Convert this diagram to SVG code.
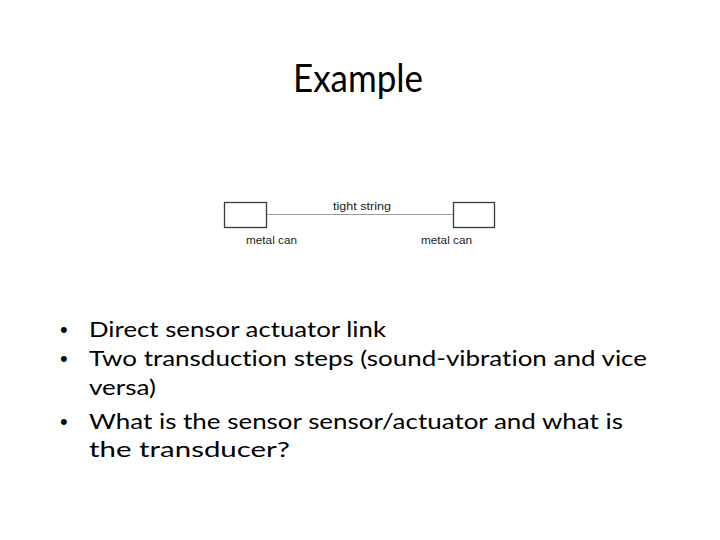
<svg xmlns="http://www.w3.org/2000/svg" width="720" height="540" viewBox="0 0 720 540">
<style>
.title{font-family:Lato,"Open Sans",sans-serif;font-size:39px;fill:#000}
.body{font-family:Lato,"Open Sans",sans-serif;font-size:22px;fill:#000;font-variant-ligatures:none}
.bul{font-family:"Liberation Sans",Arial,sans-serif;font-size:22px;fill:#000}
.lbl{font-family:"Liberation Sans",Arial,sans-serif;font-size:11px;fill:#222}
.can{fill:#fff;stroke:#3a3a3a;stroke-width:1.3}
.conn{stroke:#9a9a9a;stroke-width:1;fill:none}
</style>
<rect width="720" height="540" fill="#fff"/>
<text class="title" x="293" y="92" textLength="130" lengthAdjust="spacingAndGlyphs">Example</text>
<g id="connectors">
<line class="conn" x1="267" y1="214.5" x2="453" y2="214.5"/>
<text class="lbl" x="333" y="210" textLength="58" lengthAdjust="spacingAndGlyphs">tight string</text>
</g>
<g id="can-left">
<rect class="can" x="224.5" y="202.5" width="42" height="25"/>
<text class="lbl" x="246" y="244" textLength="51" lengthAdjust="spacingAndGlyphs">metal can</text>
</g>
<g id="can-right">
<rect class="can" x="453.5" y="202.5" width="41" height="25"/>
<text class="lbl" x="421" y="244" textLength="51" lengthAdjust="spacingAndGlyphs">metal can</text>
</g>
<g id="bullets">
<text class="bul" x="60" y="337">•</text>
<text class="body" x="89" y="337" textLength="297" lengthAdjust="spacingAndGlyphs">Direct sensor actuator link</text>
<text class="bul" x="60" y="366">•</text>
<text class="body" x="89" y="366" textLength="558" lengthAdjust="spacingAndGlyphs">Two transduction steps (sound-vibration and vice</text>
<text class="body" x="89" y="395" textLength="67" lengthAdjust="spacingAndGlyphs">versa)</text>
<text class="bul" x="60" y="429">•</text>
<text class="body" x="89" y="429" textLength="534" lengthAdjust="spacingAndGlyphs">What is the sensor sensor/actuator and what is</text>
<text class="body" x="89" y="457" textLength="201" lengthAdjust="spacingAndGlyphs">the transducer?</text>
</g>
</svg>
